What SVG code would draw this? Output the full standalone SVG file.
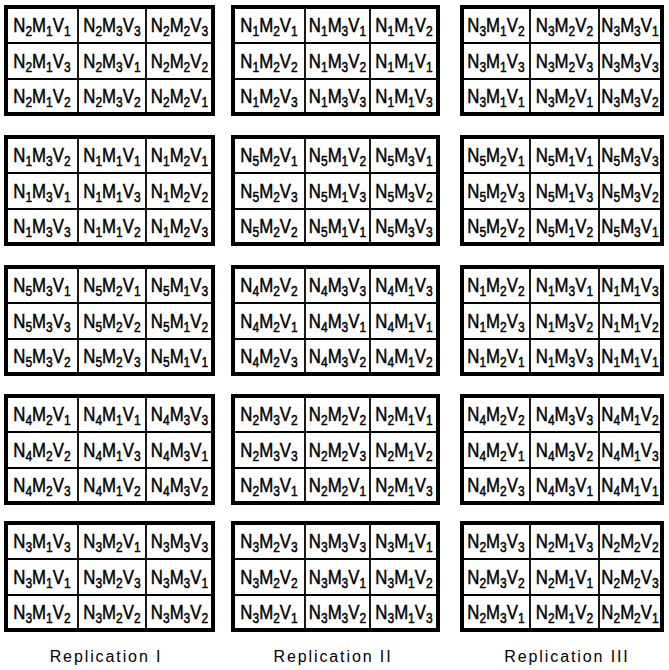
<svg xmlns="http://www.w3.org/2000/svg" width="669" height="670" viewBox="0 0 669 670">
<style>
rect.b{fill:#fff;stroke:#000;stroke-width:4}
line{stroke:#000;stroke-width:1.8}
text{font-family:"Liberation Sans",Arial,sans-serif;font-size:21px;text-anchor:middle;fill:#000;stroke:#000;stroke-width:0.5}
.s{font-size:15px}
text.lab{font-size:16px;stroke:none;letter-spacing:1.9px}
</style>
<rect width="669" height="670" fill="#fff"/>
<g id="connectors"/>
<defs>
<g id="gA"><rect class="b" x="6" y="0" width="207" height="107"/><line x1="78" y1="0" x2="78" y2="107"/><line x1="146" y1="0" x2="146" y2="107"/><line x1="6" y1="36" x2="213" y2="36"/><line x1="6" y1="72" x2="213" y2="72"/></g>
<g id="gB"><rect class="b" x="233" y="0" width="205" height="107"/><line x1="305" y1="0" x2="305" y2="107"/><line x1="370" y1="0" x2="370" y2="107"/><line x1="233" y1="36" x2="438" y2="36"/><line x1="233" y1="72" x2="438" y2="72"/></g>
<g id="gC"><rect class="b" x="462" y="0" width="200" height="107"/><line x1="530" y1="0" x2="530" y2="107"/><line x1="599" y1="0" x2="599" y2="107"/><line x1="462" y1="36" x2="662" y2="36"/><line x1="462" y1="72" x2="662" y2="72"/></g>
</defs>

<g id="r1-rep1" transform="translate(0,7)"><use href="#gA"/><g transform="scale(0.8,1)">
<text x="52.5" y="25">N<tspan class="s" dy="4">2</tspan><tspan dy="-4">M</tspan><tspan class="s" dy="4">1</tspan><tspan dy="-4">V</tspan><tspan class="s" dy="4">1</tspan></text>
<text x="140" y="25">N<tspan class="s" dy="4">2</tspan><tspan dy="-4">M</tspan><tspan class="s" dy="4">3</tspan><tspan dy="-4">V</tspan><tspan class="s" dy="4">3</tspan></text>
<text x="224.4" y="25">N<tspan class="s" dy="4">2</tspan><tspan dy="-4">M</tspan><tspan class="s" dy="4">2</tspan><tspan dy="-4">V</tspan><tspan class="s" dy="4">3</tspan></text>
<text x="52.5" y="61">N<tspan class="s" dy="4">2</tspan><tspan dy="-4">M</tspan><tspan class="s" dy="4">1</tspan><tspan dy="-4">V</tspan><tspan class="s" dy="4">3</tspan></text>
<text x="140" y="61">N<tspan class="s" dy="4">2</tspan><tspan dy="-4">M</tspan><tspan class="s" dy="4">3</tspan><tspan dy="-4">V</tspan><tspan class="s" dy="4">1</tspan></text>
<text x="224.4" y="61">N<tspan class="s" dy="4">2</tspan><tspan dy="-4">M</tspan><tspan class="s" dy="4">2</tspan><tspan dy="-4">V</tspan><tspan class="s" dy="4">2</tspan></text>
<text x="52.5" y="96">N<tspan class="s" dy="4">2</tspan><tspan dy="-4">M</tspan><tspan class="s" dy="4">1</tspan><tspan dy="-4">V</tspan><tspan class="s" dy="4">2</tspan></text>
<text x="140" y="96">N<tspan class="s" dy="4">2</tspan><tspan dy="-4">M</tspan><tspan class="s" dy="4">3</tspan><tspan dy="-4">V</tspan><tspan class="s" dy="4">2</tspan></text>
<text x="224.4" y="96">N<tspan class="s" dy="4">2</tspan><tspan dy="-4">M</tspan><tspan class="s" dy="4">2</tspan><tspan dy="-4">V</tspan><tspan class="s" dy="4">1</tspan></text>
</g></g>

<g id="r1-rep2" transform="translate(0,7)"><use href="#gB"/><g transform="scale(0.8,1)">
<text x="336.3" y="25">N<tspan class="s" dy="4">1</tspan><tspan dy="-4">M</tspan><tspan class="s" dy="4">2</tspan><tspan dy="-4">V</tspan><tspan class="s" dy="4">1</tspan></text>
<text x="421.9" y="25">N<tspan class="s" dy="4">1</tspan><tspan dy="-4">M</tspan><tspan class="s" dy="4">3</tspan><tspan dy="-4">V</tspan><tspan class="s" dy="4">1</tspan></text>
<text x="505" y="25">N<tspan class="s" dy="4">1</tspan><tspan dy="-4">M</tspan><tspan class="s" dy="4">1</tspan><tspan dy="-4">V</tspan><tspan class="s" dy="4">2</tspan></text>
<text x="336.3" y="61">N<tspan class="s" dy="4">1</tspan><tspan dy="-4">M</tspan><tspan class="s" dy="4">2</tspan><tspan dy="-4">V</tspan><tspan class="s" dy="4">2</tspan></text>
<text x="421.9" y="61">N<tspan class="s" dy="4">1</tspan><tspan dy="-4">M</tspan><tspan class="s" dy="4">3</tspan><tspan dy="-4">V</tspan><tspan class="s" dy="4">2</tspan></text>
<text x="505" y="61">N<tspan class="s" dy="4">1</tspan><tspan dy="-4">M</tspan><tspan class="s" dy="4">1</tspan><tspan dy="-4">V</tspan><tspan class="s" dy="4">1</tspan></text>
<text x="336.3" y="96">N<tspan class="s" dy="4">1</tspan><tspan dy="-4">M</tspan><tspan class="s" dy="4">2</tspan><tspan dy="-4">V</tspan><tspan class="s" dy="4">3</tspan></text>
<text x="421.9" y="96">N<tspan class="s" dy="4">1</tspan><tspan dy="-4">M</tspan><tspan class="s" dy="4">3</tspan><tspan dy="-4">V</tspan><tspan class="s" dy="4">3</tspan></text>
<text x="505" y="96">N<tspan class="s" dy="4">1</tspan><tspan dy="-4">M</tspan><tspan class="s" dy="4">1</tspan><tspan dy="-4">V</tspan><tspan class="s" dy="4">3</tspan></text>
</g></g>

<g id="r1-rep3" transform="translate(0,7)"><use href="#gC"/><g transform="scale(0.8,1)">
<text x="620" y="25">N<tspan class="s" dy="4">3</tspan><tspan dy="-4">M</tspan><tspan class="s" dy="4">1</tspan><tspan dy="-4">V</tspan><tspan class="s" dy="4">2</tspan></text>
<text x="705.6" y="25">N<tspan class="s" dy="4">3</tspan><tspan dy="-4">M</tspan><tspan class="s" dy="4">2</tspan><tspan dy="-4">V</tspan><tspan class="s" dy="4">2</tspan></text>
<text x="787.5" y="25">N<tspan class="s" dy="4">3</tspan><tspan dy="-4">M</tspan><tspan class="s" dy="4">3</tspan><tspan dy="-4">V</tspan><tspan class="s" dy="4">1</tspan></text>
<text x="620" y="61">N<tspan class="s" dy="4">3</tspan><tspan dy="-4">M</tspan><tspan class="s" dy="4">1</tspan><tspan dy="-4">V</tspan><tspan class="s" dy="4">3</tspan></text>
<text x="705.6" y="61">N<tspan class="s" dy="4">3</tspan><tspan dy="-4">M</tspan><tspan class="s" dy="4">2</tspan><tspan dy="-4">V</tspan><tspan class="s" dy="4">3</tspan></text>
<text x="787.5" y="61">N<tspan class="s" dy="4">3</tspan><tspan dy="-4">M</tspan><tspan class="s" dy="4">3</tspan><tspan dy="-4">V</tspan><tspan class="s" dy="4">3</tspan></text>
<text x="620" y="96">N<tspan class="s" dy="4">3</tspan><tspan dy="-4">M</tspan><tspan class="s" dy="4">1</tspan><tspan dy="-4">V</tspan><tspan class="s" dy="4">1</tspan></text>
<text x="705.6" y="96">N<tspan class="s" dy="4">3</tspan><tspan dy="-4">M</tspan><tspan class="s" dy="4">2</tspan><tspan dy="-4">V</tspan><tspan class="s" dy="4">1</tspan></text>
<text x="787.5" y="96">N<tspan class="s" dy="4">3</tspan><tspan dy="-4">M</tspan><tspan class="s" dy="4">3</tspan><tspan dy="-4">V</tspan><tspan class="s" dy="4">2</tspan></text>
</g></g>

<g id="r2-rep1" transform="translate(0,137)"><use href="#gA"/><g transform="scale(0.8,1)">
<text x="52.5" y="25">N<tspan class="s" dy="4">1</tspan><tspan dy="-4">M</tspan><tspan class="s" dy="4">3</tspan><tspan dy="-4">V</tspan><tspan class="s" dy="4">2</tspan></text>
<text x="140" y="25">N<tspan class="s" dy="4">1</tspan><tspan dy="-4">M</tspan><tspan class="s" dy="4">1</tspan><tspan dy="-4">V</tspan><tspan class="s" dy="4">1</tspan></text>
<text x="224.4" y="25">N<tspan class="s" dy="4">1</tspan><tspan dy="-4">M</tspan><tspan class="s" dy="4">2</tspan><tspan dy="-4">V</tspan><tspan class="s" dy="4">1</tspan></text>
<text x="52.5" y="61">N<tspan class="s" dy="4">1</tspan><tspan dy="-4">M</tspan><tspan class="s" dy="4">3</tspan><tspan dy="-4">V</tspan><tspan class="s" dy="4">1</tspan></text>
<text x="140" y="61">N<tspan class="s" dy="4">1</tspan><tspan dy="-4">M</tspan><tspan class="s" dy="4">1</tspan><tspan dy="-4">V</tspan><tspan class="s" dy="4">3</tspan></text>
<text x="224.4" y="61">N<tspan class="s" dy="4">1</tspan><tspan dy="-4">M</tspan><tspan class="s" dy="4">2</tspan><tspan dy="-4">V</tspan><tspan class="s" dy="4">2</tspan></text>
<text x="52.5" y="96">N<tspan class="s" dy="4">1</tspan><tspan dy="-4">M</tspan><tspan class="s" dy="4">3</tspan><tspan dy="-4">V</tspan><tspan class="s" dy="4">3</tspan></text>
<text x="140" y="96">N<tspan class="s" dy="4">1</tspan><tspan dy="-4">M</tspan><tspan class="s" dy="4">1</tspan><tspan dy="-4">V</tspan><tspan class="s" dy="4">2</tspan></text>
<text x="224.4" y="96">N<tspan class="s" dy="4">1</tspan><tspan dy="-4">M</tspan><tspan class="s" dy="4">2</tspan><tspan dy="-4">V</tspan><tspan class="s" dy="4">3</tspan></text>
</g></g>

<g id="r2-rep2" transform="translate(0,137)"><use href="#gB"/><g transform="scale(0.8,1)">
<text x="336.3" y="25">N<tspan class="s" dy="4">5</tspan><tspan dy="-4">M</tspan><tspan class="s" dy="4">2</tspan><tspan dy="-4">V</tspan><tspan class="s" dy="4">1</tspan></text>
<text x="421.9" y="25">N<tspan class="s" dy="4">5</tspan><tspan dy="-4">M</tspan><tspan class="s" dy="4">1</tspan><tspan dy="-4">V</tspan><tspan class="s" dy="4">2</tspan></text>
<text x="505" y="25">N<tspan class="s" dy="4">5</tspan><tspan dy="-4">M</tspan><tspan class="s" dy="4">3</tspan><tspan dy="-4">V</tspan><tspan class="s" dy="4">1</tspan></text>
<text x="336.3" y="61">N<tspan class="s" dy="4">5</tspan><tspan dy="-4">M</tspan><tspan class="s" dy="4">2</tspan><tspan dy="-4">V</tspan><tspan class="s" dy="4">3</tspan></text>
<text x="421.9" y="61">N<tspan class="s" dy="4">5</tspan><tspan dy="-4">M</tspan><tspan class="s" dy="4">1</tspan><tspan dy="-4">V</tspan><tspan class="s" dy="4">3</tspan></text>
<text x="505" y="61">N<tspan class="s" dy="4">5</tspan><tspan dy="-4">M</tspan><tspan class="s" dy="4">3</tspan><tspan dy="-4">V</tspan><tspan class="s" dy="4">2</tspan></text>
<text x="336.3" y="96">N<tspan class="s" dy="4">5</tspan><tspan dy="-4">M</tspan><tspan class="s" dy="4">2</tspan><tspan dy="-4">V</tspan><tspan class="s" dy="4">2</tspan></text>
<text x="421.9" y="96">N<tspan class="s" dy="4">5</tspan><tspan dy="-4">M</tspan><tspan class="s" dy="4">1</tspan><tspan dy="-4">V</tspan><tspan class="s" dy="4">1</tspan></text>
<text x="505" y="96">N<tspan class="s" dy="4">5</tspan><tspan dy="-4">M</tspan><tspan class="s" dy="4">3</tspan><tspan dy="-4">V</tspan><tspan class="s" dy="4">3</tspan></text>
</g></g>

<g id="r2-rep3" transform="translate(0,137)"><use href="#gC"/><g transform="scale(0.8,1)">
<text x="620" y="25">N<tspan class="s" dy="4">5</tspan><tspan dy="-4">M</tspan><tspan class="s" dy="4">2</tspan><tspan dy="-4">V</tspan><tspan class="s" dy="4">1</tspan></text>
<text x="705.6" y="25">N<tspan class="s" dy="4">5</tspan><tspan dy="-4">M</tspan><tspan class="s" dy="4">1</tspan><tspan dy="-4">V</tspan><tspan class="s" dy="4">1</tspan></text>
<text x="787.5" y="25">N<tspan class="s" dy="4">5</tspan><tspan dy="-4">M</tspan><tspan class="s" dy="4">3</tspan><tspan dy="-4">V</tspan><tspan class="s" dy="4">3</tspan></text>
<text x="620" y="61">N<tspan class="s" dy="4">5</tspan><tspan dy="-4">M</tspan><tspan class="s" dy="4">2</tspan><tspan dy="-4">V</tspan><tspan class="s" dy="4">3</tspan></text>
<text x="705.6" y="61">N<tspan class="s" dy="4">5</tspan><tspan dy="-4">M</tspan><tspan class="s" dy="4">1</tspan><tspan dy="-4">V</tspan><tspan class="s" dy="4">3</tspan></text>
<text x="787.5" y="61">N<tspan class="s" dy="4">5</tspan><tspan dy="-4">M</tspan><tspan class="s" dy="4">3</tspan><tspan dy="-4">V</tspan><tspan class="s" dy="4">2</tspan></text>
<text x="620" y="96">N<tspan class="s" dy="4">5</tspan><tspan dy="-4">M</tspan><tspan class="s" dy="4">2</tspan><tspan dy="-4">V</tspan><tspan class="s" dy="4">2</tspan></text>
<text x="705.6" y="96">N<tspan class="s" dy="4">5</tspan><tspan dy="-4">M</tspan><tspan class="s" dy="4">1</tspan><tspan dy="-4">V</tspan><tspan class="s" dy="4">2</tspan></text>
<text x="787.5" y="96">N<tspan class="s" dy="4">5</tspan><tspan dy="-4">M</tspan><tspan class="s" dy="4">3</tspan><tspan dy="-4">V</tspan><tspan class="s" dy="4">1</tspan></text>
</g></g>

<g id="r3-rep1" transform="translate(0,267)"><use href="#gA"/><g transform="scale(0.8,1)">
<text x="52.5" y="25">N<tspan class="s" dy="4">5</tspan><tspan dy="-4">M</tspan><tspan class="s" dy="4">3</tspan><tspan dy="-4">V</tspan><tspan class="s" dy="4">1</tspan></text>
<text x="140" y="25">N<tspan class="s" dy="4">5</tspan><tspan dy="-4">M</tspan><tspan class="s" dy="4">2</tspan><tspan dy="-4">V</tspan><tspan class="s" dy="4">1</tspan></text>
<text x="224.4" y="25">N<tspan class="s" dy="4">5</tspan><tspan dy="-4">M</tspan><tspan class="s" dy="4">1</tspan><tspan dy="-4">V</tspan><tspan class="s" dy="4">3</tspan></text>
<text x="52.5" y="61">N<tspan class="s" dy="4">5</tspan><tspan dy="-4">M</tspan><tspan class="s" dy="4">3</tspan><tspan dy="-4">V</tspan><tspan class="s" dy="4">3</tspan></text>
<text x="140" y="61">N<tspan class="s" dy="4">5</tspan><tspan dy="-4">M</tspan><tspan class="s" dy="4">2</tspan><tspan dy="-4">V</tspan><tspan class="s" dy="4">2</tspan></text>
<text x="224.4" y="61">N<tspan class="s" dy="4">5</tspan><tspan dy="-4">M</tspan><tspan class="s" dy="4">1</tspan><tspan dy="-4">V</tspan><tspan class="s" dy="4">2</tspan></text>
<text x="52.5" y="96">N<tspan class="s" dy="4">5</tspan><tspan dy="-4">M</tspan><tspan class="s" dy="4">3</tspan><tspan dy="-4">V</tspan><tspan class="s" dy="4">2</tspan></text>
<text x="140" y="96">N<tspan class="s" dy="4">5</tspan><tspan dy="-4">M</tspan><tspan class="s" dy="4">2</tspan><tspan dy="-4">V</tspan><tspan class="s" dy="4">3</tspan></text>
<text x="224.4" y="96">N<tspan class="s" dy="4">5</tspan><tspan dy="-4">M</tspan><tspan class="s" dy="4">1</tspan><tspan dy="-4">V</tspan><tspan class="s" dy="4">1</tspan></text>
</g></g>

<g id="r3-rep2" transform="translate(0,267)"><use href="#gB"/><g transform="scale(0.8,1)">
<text x="336.3" y="25">N<tspan class="s" dy="4">4</tspan><tspan dy="-4">M</tspan><tspan class="s" dy="4">2</tspan><tspan dy="-4">V</tspan><tspan class="s" dy="4">2</tspan></text>
<text x="421.9" y="25">N<tspan class="s" dy="4">4</tspan><tspan dy="-4">M</tspan><tspan class="s" dy="4">3</tspan><tspan dy="-4">V</tspan><tspan class="s" dy="4">3</tspan></text>
<text x="505" y="25">N<tspan class="s" dy="4">4</tspan><tspan dy="-4">M</tspan><tspan class="s" dy="4">1</tspan><tspan dy="-4">V</tspan><tspan class="s" dy="4">3</tspan></text>
<text x="336.3" y="61">N<tspan class="s" dy="4">4</tspan><tspan dy="-4">M</tspan><tspan class="s" dy="4">2</tspan><tspan dy="-4">V</tspan><tspan class="s" dy="4">1</tspan></text>
<text x="421.9" y="61">N<tspan class="s" dy="4">4</tspan><tspan dy="-4">M</tspan><tspan class="s" dy="4">3</tspan><tspan dy="-4">V</tspan><tspan class="s" dy="4">1</tspan></text>
<text x="505" y="61">N<tspan class="s" dy="4">4</tspan><tspan dy="-4">M</tspan><tspan class="s" dy="4">1</tspan><tspan dy="-4">V</tspan><tspan class="s" dy="4">1</tspan></text>
<text x="336.3" y="96">N<tspan class="s" dy="4">4</tspan><tspan dy="-4">M</tspan><tspan class="s" dy="4">2</tspan><tspan dy="-4">V</tspan><tspan class="s" dy="4">3</tspan></text>
<text x="421.9" y="96">N<tspan class="s" dy="4">4</tspan><tspan dy="-4">M</tspan><tspan class="s" dy="4">3</tspan><tspan dy="-4">V</tspan><tspan class="s" dy="4">2</tspan></text>
<text x="505" y="96">N<tspan class="s" dy="4">4</tspan><tspan dy="-4">M</tspan><tspan class="s" dy="4">1</tspan><tspan dy="-4">V</tspan><tspan class="s" dy="4">2</tspan></text>
</g></g>

<g id="r3-rep3" transform="translate(0,267)"><use href="#gC"/><g transform="scale(0.8,1)">
<text x="620" y="25">N<tspan class="s" dy="4">1</tspan><tspan dy="-4">M</tspan><tspan class="s" dy="4">2</tspan><tspan dy="-4">V</tspan><tspan class="s" dy="4">2</tspan></text>
<text x="705.6" y="25">N<tspan class="s" dy="4">1</tspan><tspan dy="-4">M</tspan><tspan class="s" dy="4">3</tspan><tspan dy="-4">V</tspan><tspan class="s" dy="4">1</tspan></text>
<text x="787.5" y="25">N<tspan class="s" dy="4">1</tspan><tspan dy="-4">M</tspan><tspan class="s" dy="4">1</tspan><tspan dy="-4">V</tspan><tspan class="s" dy="4">3</tspan></text>
<text x="620" y="61">N<tspan class="s" dy="4">1</tspan><tspan dy="-4">M</tspan><tspan class="s" dy="4">2</tspan><tspan dy="-4">V</tspan><tspan class="s" dy="4">3</tspan></text>
<text x="705.6" y="61">N<tspan class="s" dy="4">1</tspan><tspan dy="-4">M</tspan><tspan class="s" dy="4">3</tspan><tspan dy="-4">V</tspan><tspan class="s" dy="4">2</tspan></text>
<text x="787.5" y="61">N<tspan class="s" dy="4">1</tspan><tspan dy="-4">M</tspan><tspan class="s" dy="4">1</tspan><tspan dy="-4">V</tspan><tspan class="s" dy="4">2</tspan></text>
<text x="620" y="96">N<tspan class="s" dy="4">1</tspan><tspan dy="-4">M</tspan><tspan class="s" dy="4">2</tspan><tspan dy="-4">V</tspan><tspan class="s" dy="4">1</tspan></text>
<text x="705.6" y="96">N<tspan class="s" dy="4">1</tspan><tspan dy="-4">M</tspan><tspan class="s" dy="4">3</tspan><tspan dy="-4">V</tspan><tspan class="s" dy="4">3</tspan></text>
<text x="787.5" y="96">N<tspan class="s" dy="4">1</tspan><tspan dy="-4">M</tspan><tspan class="s" dy="4">1</tspan><tspan dy="-4">V</tspan><tspan class="s" dy="4">1</tspan></text>
</g></g>

<g id="r4-rep1" transform="translate(0,396)"><use href="#gA"/><g transform="scale(0.8,1)">
<text x="52.5" y="25">N<tspan class="s" dy="4">4</tspan><tspan dy="-4">M</tspan><tspan class="s" dy="4">2</tspan><tspan dy="-4">V</tspan><tspan class="s" dy="4">1</tspan></text>
<text x="140" y="25">N<tspan class="s" dy="4">4</tspan><tspan dy="-4">M</tspan><tspan class="s" dy="4">1</tspan><tspan dy="-4">V</tspan><tspan class="s" dy="4">1</tspan></text>
<text x="224.4" y="25">N<tspan class="s" dy="4">4</tspan><tspan dy="-4">M</tspan><tspan class="s" dy="4">3</tspan><tspan dy="-4">V</tspan><tspan class="s" dy="4">3</tspan></text>
<text x="52.5" y="61">N<tspan class="s" dy="4">4</tspan><tspan dy="-4">M</tspan><tspan class="s" dy="4">2</tspan><tspan dy="-4">V</tspan><tspan class="s" dy="4">2</tspan></text>
<text x="140" y="61">N<tspan class="s" dy="4">4</tspan><tspan dy="-4">M</tspan><tspan class="s" dy="4">1</tspan><tspan dy="-4">V</tspan><tspan class="s" dy="4">3</tspan></text>
<text x="224.4" y="61">N<tspan class="s" dy="4">4</tspan><tspan dy="-4">M</tspan><tspan class="s" dy="4">3</tspan><tspan dy="-4">V</tspan><tspan class="s" dy="4">1</tspan></text>
<text x="52.5" y="96">N<tspan class="s" dy="4">4</tspan><tspan dy="-4">M</tspan><tspan class="s" dy="4">2</tspan><tspan dy="-4">V</tspan><tspan class="s" dy="4">3</tspan></text>
<text x="140" y="96">N<tspan class="s" dy="4">4</tspan><tspan dy="-4">M</tspan><tspan class="s" dy="4">1</tspan><tspan dy="-4">V</tspan><tspan class="s" dy="4">2</tspan></text>
<text x="224.4" y="96">N<tspan class="s" dy="4">4</tspan><tspan dy="-4">M</tspan><tspan class="s" dy="4">3</tspan><tspan dy="-4">V</tspan><tspan class="s" dy="4">2</tspan></text>
</g></g>

<g id="r4-rep2" transform="translate(0,396)"><use href="#gB"/><g transform="scale(0.8,1)">
<text x="336.3" y="25">N<tspan class="s" dy="4">2</tspan><tspan dy="-4">M</tspan><tspan class="s" dy="4">3</tspan><tspan dy="-4">V</tspan><tspan class="s" dy="4">2</tspan></text>
<text x="421.9" y="25">N<tspan class="s" dy="4">2</tspan><tspan dy="-4">M</tspan><tspan class="s" dy="4">2</tspan><tspan dy="-4">V</tspan><tspan class="s" dy="4">2</tspan></text>
<text x="505" y="25">N<tspan class="s" dy="4">2</tspan><tspan dy="-4">M</tspan><tspan class="s" dy="4">1</tspan><tspan dy="-4">V</tspan><tspan class="s" dy="4">1</tspan></text>
<text x="336.3" y="61">N<tspan class="s" dy="4">2</tspan><tspan dy="-4">M</tspan><tspan class="s" dy="4">3</tspan><tspan dy="-4">V</tspan><tspan class="s" dy="4">3</tspan></text>
<text x="421.9" y="61">N<tspan class="s" dy="4">2</tspan><tspan dy="-4">M</tspan><tspan class="s" dy="4">2</tspan><tspan dy="-4">V</tspan><tspan class="s" dy="4">3</tspan></text>
<text x="505" y="61">N<tspan class="s" dy="4">2</tspan><tspan dy="-4">M</tspan><tspan class="s" dy="4">1</tspan><tspan dy="-4">V</tspan><tspan class="s" dy="4">2</tspan></text>
<text x="336.3" y="96">N<tspan class="s" dy="4">2</tspan><tspan dy="-4">M</tspan><tspan class="s" dy="4">3</tspan><tspan dy="-4">V</tspan><tspan class="s" dy="4">1</tspan></text>
<text x="421.9" y="96">N<tspan class="s" dy="4">2</tspan><tspan dy="-4">M</tspan><tspan class="s" dy="4">2</tspan><tspan dy="-4">V</tspan><tspan class="s" dy="4">1</tspan></text>
<text x="505" y="96">N<tspan class="s" dy="4">2</tspan><tspan dy="-4">M</tspan><tspan class="s" dy="4">1</tspan><tspan dy="-4">V</tspan><tspan class="s" dy="4">3</tspan></text>
</g></g>

<g id="r4-rep3" transform="translate(0,396)"><use href="#gC"/><g transform="scale(0.8,1)">
<text x="620" y="25">N<tspan class="s" dy="4">4</tspan><tspan dy="-4">M</tspan><tspan class="s" dy="4">2</tspan><tspan dy="-4">V</tspan><tspan class="s" dy="4">2</tspan></text>
<text x="705.6" y="25">N<tspan class="s" dy="4">4</tspan><tspan dy="-4">M</tspan><tspan class="s" dy="4">3</tspan><tspan dy="-4">V</tspan><tspan class="s" dy="4">3</tspan></text>
<text x="787.5" y="25">N<tspan class="s" dy="4">4</tspan><tspan dy="-4">M</tspan><tspan class="s" dy="4">1</tspan><tspan dy="-4">V</tspan><tspan class="s" dy="4">2</tspan></text>
<text x="620" y="61">N<tspan class="s" dy="4">4</tspan><tspan dy="-4">M</tspan><tspan class="s" dy="4">2</tspan><tspan dy="-4">V</tspan><tspan class="s" dy="4">1</tspan></text>
<text x="705.6" y="61">N<tspan class="s" dy="4">4</tspan><tspan dy="-4">M</tspan><tspan class="s" dy="4">3</tspan><tspan dy="-4">V</tspan><tspan class="s" dy="4">2</tspan></text>
<text x="787.5" y="61">N<tspan class="s" dy="4">4</tspan><tspan dy="-4">M</tspan><tspan class="s" dy="4">1</tspan><tspan dy="-4">V</tspan><tspan class="s" dy="4">3</tspan></text>
<text x="620" y="96">N<tspan class="s" dy="4">4</tspan><tspan dy="-4">M</tspan><tspan class="s" dy="4">2</tspan><tspan dy="-4">V</tspan><tspan class="s" dy="4">3</tspan></text>
<text x="705.6" y="96">N<tspan class="s" dy="4">4</tspan><tspan dy="-4">M</tspan><tspan class="s" dy="4">3</tspan><tspan dy="-4">V</tspan><tspan class="s" dy="4">1</tspan></text>
<text x="787.5" y="96">N<tspan class="s" dy="4">4</tspan><tspan dy="-4">M</tspan><tspan class="s" dy="4">1</tspan><tspan dy="-4">V</tspan><tspan class="s" dy="4">1</tspan></text>
</g></g>

<g id="r5-rep1" transform="translate(0,523)"><use href="#gA"/><g transform="scale(0.8,1)">
<text x="52.5" y="25">N<tspan class="s" dy="4">3</tspan><tspan dy="-4">M</tspan><tspan class="s" dy="4">1</tspan><tspan dy="-4">V</tspan><tspan class="s" dy="4">3</tspan></text>
<text x="140" y="25">N<tspan class="s" dy="4">3</tspan><tspan dy="-4">M</tspan><tspan class="s" dy="4">2</tspan><tspan dy="-4">V</tspan><tspan class="s" dy="4">1</tspan></text>
<text x="224.4" y="25">N<tspan class="s" dy="4">3</tspan><tspan dy="-4">M</tspan><tspan class="s" dy="4">3</tspan><tspan dy="-4">V</tspan><tspan class="s" dy="4">3</tspan></text>
<text x="52.5" y="61">N<tspan class="s" dy="4">3</tspan><tspan dy="-4">M</tspan><tspan class="s" dy="4">1</tspan><tspan dy="-4">V</tspan><tspan class="s" dy="4">1</tspan></text>
<text x="140" y="61">N<tspan class="s" dy="4">3</tspan><tspan dy="-4">M</tspan><tspan class="s" dy="4">2</tspan><tspan dy="-4">V</tspan><tspan class="s" dy="4">3</tspan></text>
<text x="224.4" y="61">N<tspan class="s" dy="4">3</tspan><tspan dy="-4">M</tspan><tspan class="s" dy="4">3</tspan><tspan dy="-4">V</tspan><tspan class="s" dy="4">1</tspan></text>
<text x="52.5" y="96">N<tspan class="s" dy="4">3</tspan><tspan dy="-4">M</tspan><tspan class="s" dy="4">1</tspan><tspan dy="-4">V</tspan><tspan class="s" dy="4">2</tspan></text>
<text x="140" y="96">N<tspan class="s" dy="4">3</tspan><tspan dy="-4">M</tspan><tspan class="s" dy="4">2</tspan><tspan dy="-4">V</tspan><tspan class="s" dy="4">2</tspan></text>
<text x="224.4" y="96">N<tspan class="s" dy="4">3</tspan><tspan dy="-4">M</tspan><tspan class="s" dy="4">3</tspan><tspan dy="-4">V</tspan><tspan class="s" dy="4">2</tspan></text>
</g></g>

<g id="r5-rep2" transform="translate(0,523)"><use href="#gB"/><g transform="scale(0.8,1)">
<text x="336.3" y="25">N<tspan class="s" dy="4">3</tspan><tspan dy="-4">M</tspan><tspan class="s" dy="4">2</tspan><tspan dy="-4">V</tspan><tspan class="s" dy="4">3</tspan></text>
<text x="421.9" y="25">N<tspan class="s" dy="4">3</tspan><tspan dy="-4">M</tspan><tspan class="s" dy="4">3</tspan><tspan dy="-4">V</tspan><tspan class="s" dy="4">3</tspan></text>
<text x="505" y="25">N<tspan class="s" dy="4">3</tspan><tspan dy="-4">M</tspan><tspan class="s" dy="4">1</tspan><tspan dy="-4">V</tspan><tspan class="s" dy="4">1</tspan></text>
<text x="336.3" y="61">N<tspan class="s" dy="4">3</tspan><tspan dy="-4">M</tspan><tspan class="s" dy="4">2</tspan><tspan dy="-4">V</tspan><tspan class="s" dy="4">2</tspan></text>
<text x="421.9" y="61">N<tspan class="s" dy="4">3</tspan><tspan dy="-4">M</tspan><tspan class="s" dy="4">3</tspan><tspan dy="-4">V</tspan><tspan class="s" dy="4">1</tspan></text>
<text x="505" y="61">N<tspan class="s" dy="4">3</tspan><tspan dy="-4">M</tspan><tspan class="s" dy="4">1</tspan><tspan dy="-4">V</tspan><tspan class="s" dy="4">2</tspan></text>
<text x="336.3" y="96">N<tspan class="s" dy="4">3</tspan><tspan dy="-4">M</tspan><tspan class="s" dy="4">2</tspan><tspan dy="-4">V</tspan><tspan class="s" dy="4">1</tspan></text>
<text x="421.9" y="96">N<tspan class="s" dy="4">3</tspan><tspan dy="-4">M</tspan><tspan class="s" dy="4">3</tspan><tspan dy="-4">V</tspan><tspan class="s" dy="4">2</tspan></text>
<text x="505" y="96">N<tspan class="s" dy="4">3</tspan><tspan dy="-4">M</tspan><tspan class="s" dy="4">1</tspan><tspan dy="-4">V</tspan><tspan class="s" dy="4">3</tspan></text>
</g></g>

<g id="r5-rep3" transform="translate(0,523)"><use href="#gC"/><g transform="scale(0.8,1)">
<text x="620" y="25">N<tspan class="s" dy="4">2</tspan><tspan dy="-4">M</tspan><tspan class="s" dy="4">3</tspan><tspan dy="-4">V</tspan><tspan class="s" dy="4">3</tspan></text>
<text x="705.6" y="25">N<tspan class="s" dy="4">2</tspan><tspan dy="-4">M</tspan><tspan class="s" dy="4">1</tspan><tspan dy="-4">V</tspan><tspan class="s" dy="4">3</tspan></text>
<text x="787.5" y="25">N<tspan class="s" dy="4">2</tspan><tspan dy="-4">M</tspan><tspan class="s" dy="4">2</tspan><tspan dy="-4">V</tspan><tspan class="s" dy="4">2</tspan></text>
<text x="620" y="61">N<tspan class="s" dy="4">2</tspan><tspan dy="-4">M</tspan><tspan class="s" dy="4">3</tspan><tspan dy="-4">V</tspan><tspan class="s" dy="4">2</tspan></text>
<text x="705.6" y="61">N<tspan class="s" dy="4">2</tspan><tspan dy="-4">M</tspan><tspan class="s" dy="4">1</tspan><tspan dy="-4">V</tspan><tspan class="s" dy="4">1</tspan></text>
<text x="787.5" y="61">N<tspan class="s" dy="4">2</tspan><tspan dy="-4">M</tspan><tspan class="s" dy="4">2</tspan><tspan dy="-4">V</tspan><tspan class="s" dy="4">3</tspan></text>
<text x="620" y="96">N<tspan class="s" dy="4">2</tspan><tspan dy="-4">M</tspan><tspan class="s" dy="4">3</tspan><tspan dy="-4">V</tspan><tspan class="s" dy="4">1</tspan></text>
<text x="705.6" y="96">N<tspan class="s" dy="4">2</tspan><tspan dy="-4">M</tspan><tspan class="s" dy="4">1</tspan><tspan dy="-4">V</tspan><tspan class="s" dy="4">2</tspan></text>
<text x="787.5" y="96">N<tspan class="s" dy="4">2</tspan><tspan dy="-4">M</tspan><tspan class="s" dy="4">2</tspan><tspan dy="-4">V</tspan><tspan class="s" dy="4">1</tspan></text>
</g></g>

<g id="labels">
<text class="lab" x="106" y="662">Replication I</text>
<text class="lab" x="333" y="662">Replication II</text>
<text class="lab" x="567" y="662">Replication III</text>
</g>
</svg>
